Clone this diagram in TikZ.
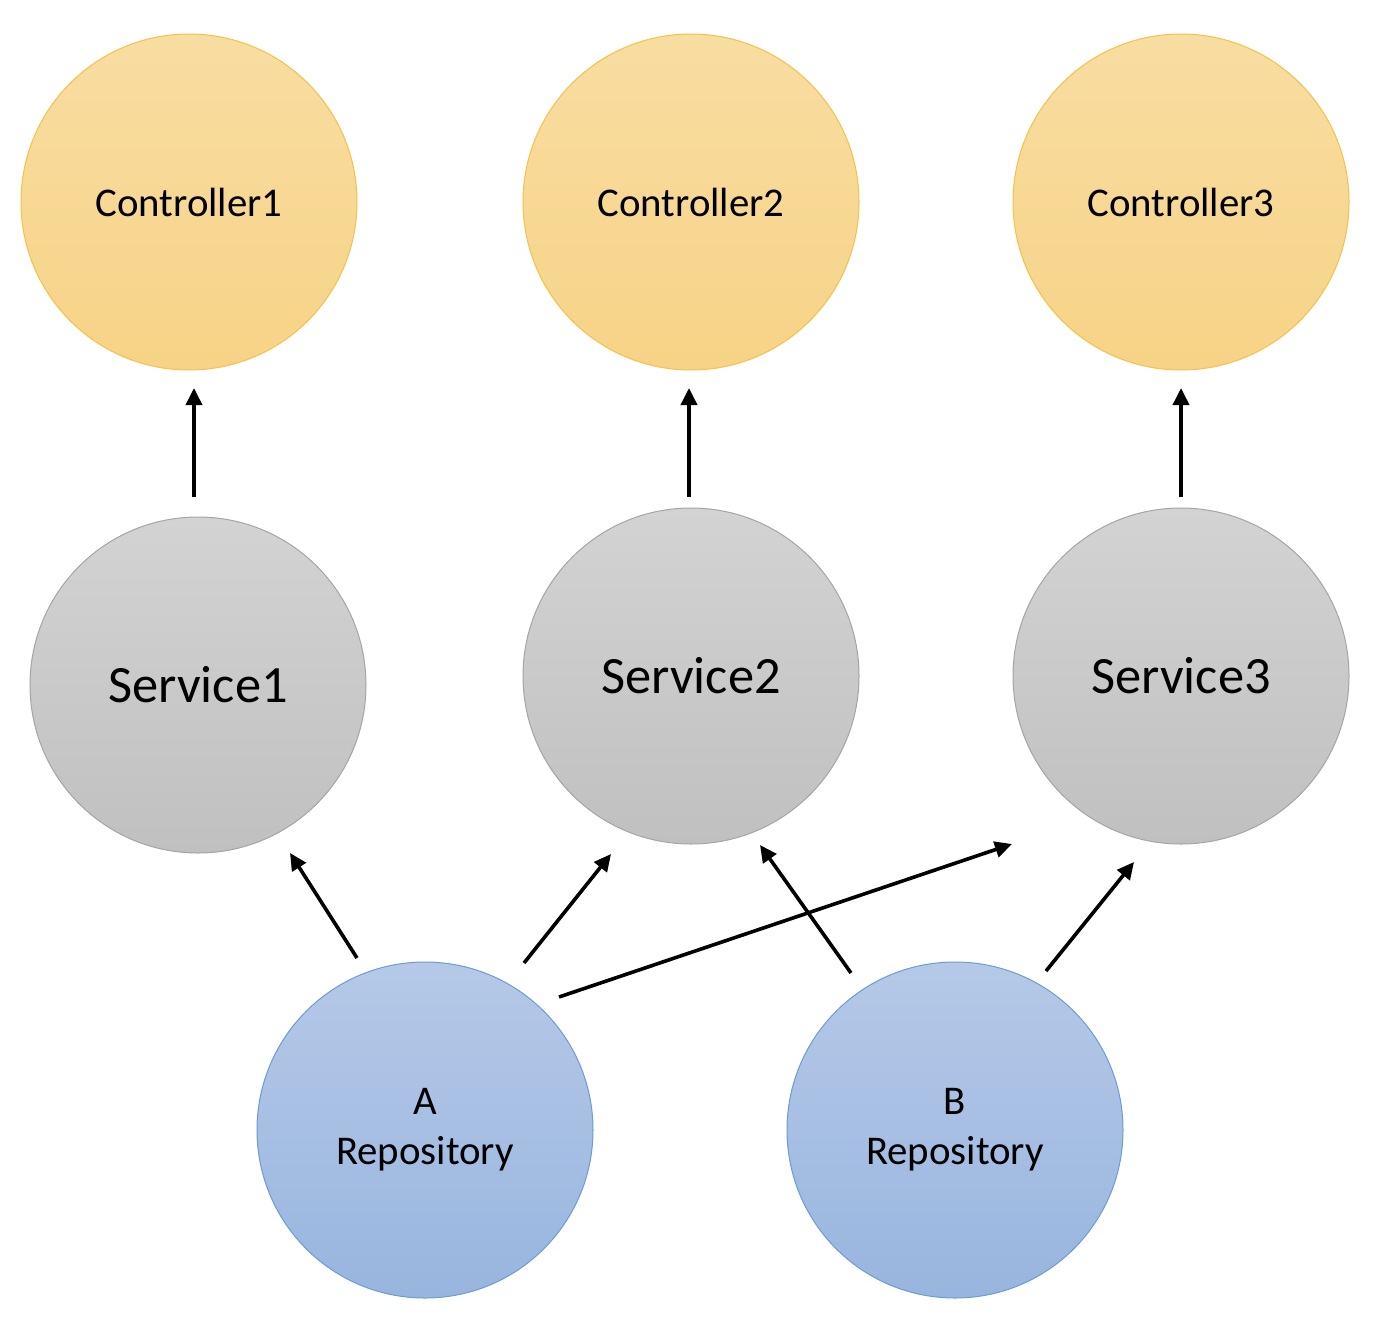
\documentclass[tikz,border=0pt]{standalone}
\usepackage{fontspec}
\setmainfont{Carlito}
\usetikzlibrary{arrows.meta}
\definecolor{ctrltop}{HTML}{F8DDA2}
\definecolor{ctrlbot}{HTML}{F7D386}
\definecolor{ctrlbd}{HTML}{F2C24A}
\definecolor{svctop}{HTML}{D3D3D3}
\definecolor{svcbot}{HTML}{C0C0C0}
\definecolor{svcbd}{HTML}{A5A5A5}
\definecolor{repotop}{HTML}{B5C9E7}
\definecolor{repobot}{HTML}{98B5DF}
\definecolor{repobd}{HTML}{6E9BD2}
\tikzset{
  ball/.style={circle, minimum size=336pt, inner sep=0pt, line width=1pt, align=center},
  ctrl/.style={ball, draw=ctrlbd, top color=ctrltop, bottom color=ctrlbot, font=\fontsize{40.8}{50}\selectfont},
  svc/.style={ball, draw=svcbd, top color=svctop, bottom color=svcbot, font=\fontsize{52.4}{62}\selectfont},
  repo/.style={ball, draw=repobd, top color=repotop, bottom color=repobot, font=\fontsize{40.8}{50}\selectfont},
  arr/.style={line width=3.6pt, -{Triangle[length=17pt,width=16pt]}}
}
\begin{document}
\begin{tikzpicture}[x=1pt,y=-1pt]
\useasboundingbox (0,0) rectangle (1380,1322);
\node[ctrl] (c1) at (189,202) {Controller1};
\node[ctrl] (c2) at (691,202) {Controller2};
\node[ctrl] (c3) at (1181,202) {Controller3};
\node[svc] (s1) at (198,685) {Service1};
\node[svc] (s2) at (691,676) {Service2};
\node[svc] (s3) at (1181,676) {Service3};
\node[repo] (ra) at (425,1130) {A\\Repository};
\node[repo] (rb) at (955,1130) {B\\Repository};
% arrow end points
\coordinate (s1out) at (194,497);  \coordinate (c1in) at (194,388);
\coordinate (s2out) at (689,497);  \coordinate (c2in) at (689,388);
\coordinate (s3out) at (1181,497); \coordinate (c3in) at (1181,388);
\coordinate (ra1) at (357,958);  \coordinate (s1in) at (290,853);
\coordinate (ra2) at (524,963);  \coordinate (s2ina) at (611,854);
\coordinate (ra3) at (559,997);  \coordinate (s3ina) at (1012,844);
\coordinate (rb1) at (851,973);  \coordinate (s2inb) at (760,845);
\coordinate (rb2) at (1046,971); \coordinate (s3inb) at (1134,862);
\draw[arr] (s1out) -- (c1in);
\draw[arr] (s2out) -- (c2in);
\draw[arr] (s3out) -- (c3in);
\draw[arr] (ra1) -- (s1in);
\draw[arr] (ra2) -- (s2ina);
\draw[arr] (ra3) -- (s3ina);
\draw[arr] (rb1) -- (s2inb);
\draw[arr] (rb2) -- (s3inb);
\end{tikzpicture}
\end{document}
